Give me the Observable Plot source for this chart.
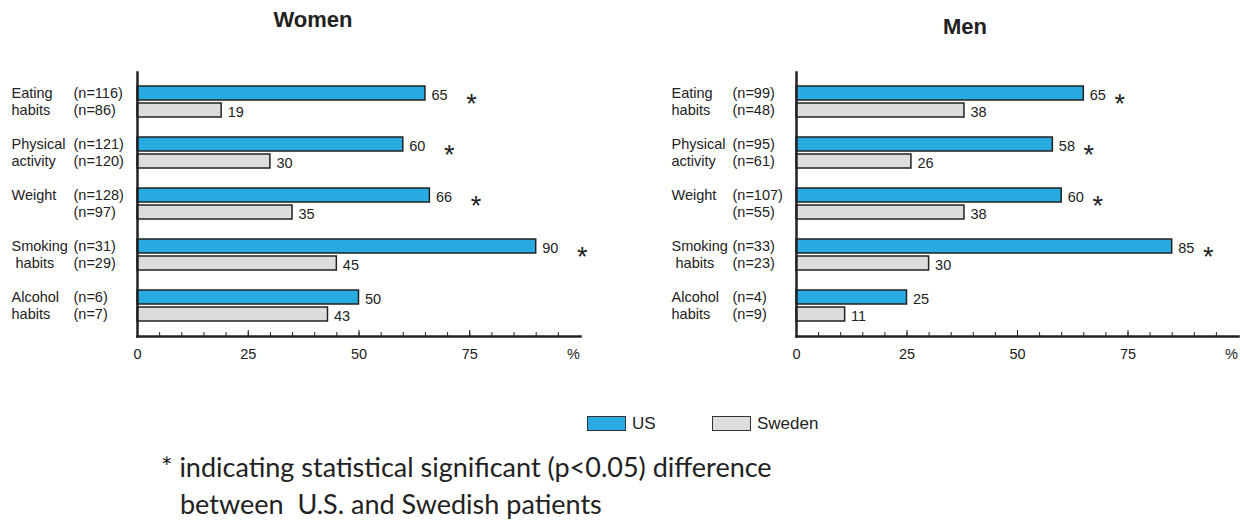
<!DOCTYPE html>
<html>
<head>
<meta charset="utf-8">
<script src="https://cdn.jsdelivr.net/npm/d3@7"></script>
<script src="https://cdn.jsdelivr.net/npm/@observablehq/plot@0.6"></script>
<style>
  body { margin: 0; background: #fff; }
  #root { position: relative; width: 1240px; height: 526px; font-family: "Liberation Sans", Arial, sans-serif; color: #222; overflow: hidden; }
  .panel { position: absolute; top: 0; }
  .title { position: absolute; width: 200px; text-align: center; font-weight: bold; font-size: 22px; line-height: 22px; }
  .swatch { position: absolute; width: 37px; height: 13px; border: 1px solid #333; box-sizing: content-box; }
  .legtext { position: absolute; font-size: 17px; line-height: 17px; }
  .note { position: absolute; font-family: Lato, "Open Sans", sans-serif; font-size: 27px; line-height: 28px; white-space: pre; color: #222; }
</style>
</head>
<body>
<div id="root"></div>
<script>
// ---------- data ----------
const categories = ["Eating habits", "Physical activity", "Weight", "Smoking habits", "Alcohol habits"];
const labelLine1 = ["Eating", "Physical", "Weight", "Smoking", "Alcohol"];
const labelLine2 = ["habits", "activity", "", " habits", "habits"];
const countries = ["US", "Sweden"];
const countryColors = ["#29abe2", "#dcdddf"];

const womenUS = [65, 60, 66, 90, 50];
const womenSweden = [19, 30, 35, 45, 43];
const womenNUS = [116, 121, 128, 31, 6];
const womenNSweden = [86, 120, 97, 29, 7];
const womenSignificant = [true, true, true, true, false];

const menUS = [65, 58, 60, 85, 25];
const menSweden = [38, 26, 38, 30, 11];
const menNUS = [99, 95, 107, 33, 4];
const menNSweden = [48, 61, 55, 23, 9];
const menSignificant = [true, true, true, true, false];

const xTicks = [0, 25, 50, 75];
const unitLabel = "%";
const titles = ["Women", "Men"];
const noteLine1 = "* indicating statistical significant (p<0.05) difference";
const noteLine2 = "between  U.S. and Swedish patients";

// ---------- helpers ----------
const yDomain = categories.flatMap((c, i) =>
  i < categories.length - 1 ? [c + "|US", c + "|Sweden", "gap" + i] : [c + "|US", c + "|Sweden"]);

function rows(us, sw, nUS, nSw, sig) {
  return categories.flatMap((c, i) => [
    {key: c + "|US", cat: c, country: "US", value: us[i], n: nUS[i], label: labelLine1[i], sig: sig[i]},
    {key: c + "|Sweden", cat: c, country: "Sweden", value: sw[i], n: nSw[i], label: labelLine2[i], sig: false}
  ]);
}

const FONT = "Liberation Sans, Arial, sans-serif";
const PLOT_H = 380, MT = 72, MB = 44;
const innerH = PLOT_H - MT - MB;

function panel(data, o) {
  const stars = data.filter(d => d.sig);
  return Plot.plot({
    width: o.width, height: PLOT_H,
    marginLeft: o.ml, marginRight: o.mr, marginTop: MT, marginBottom: MB,
    style: {fontFamily: FONT, fontSize: "14.5px", color: "#222", background: "transparent", overflow: "visible", whiteSpace: "pre"},
    x: {domain: [0, 100], label: null},
    y: {domain: yDomain, paddingInner: 0.156, paddingOuter: 0.5, axis: null},
    color: {domain: countries, range: countryColors},
    marks: [
      Plot.barX(data, {x: "value", y: "key", fill: "country", stroke: "#222", strokeWidth: 1.5}),
      Plot.text(data, {x: "value", y: "key", text: d => String(d.value), dx: 6, dy: 1.5, textAnchor: "start", fill: "#222"}),
      Plot.text(stars, {x: "value", y: "key", text: () => "*", dx: o.starDx, dy: 11, fontSize: 27, fill: "#222"}),
      Plot.text(data, {y: "key", text: "label", frameAnchor: "left", textAnchor: "start", dx: o.labelDx, fill: "#222"}),
      Plot.text(data, {y: "key", text: d => `(n=${d.n})`, frameAnchor: "left", textAnchor: "start", dx: o.nDx, fill: "#222"}),
      Plot.ruleX(d3.range(5, 100, 5), {insetTop: innerH - 4, stroke: "#222", strokeWidth: 1}),
      Plot.ruleX(xTicks.slice(1), {insetTop: innerH - 6, stroke: "#222", strokeWidth: 1}),
      Plot.axisX({ticks: xTicks, tickSize: 0, tickPadding: 12, label: null, fill: "#222"}),
      Plot.axisX({ticks: [100], tickFormat: () => unitLabel, tickSize: 0, tickPadding: 12, label: null, dx: -7, fill: "#222"}),
      Plot.frame({anchor: "left", stroke: "#222", strokeWidth: 2.5}),
      Plot.frame({anchor: "bottom", stroke: "#222", strokeWidth: 2.5})
    ]
  });
}

const root = document.getElementById("root");

function place(el, left, top) {
  const d = document.createElement("div");
  d.className = "panel";
  d.style.left = left + "px";
  d.style.top = top + "px";
  d.appendChild(el);
  root.appendChild(d);
}

place(panel(rows(womenUS, womenSweden, womenNUS, womenNSweden, womenSignificant),
  {width: 620, ml: 137, mr: 40, starDx: 46, labelDx: -126, nDx: -64}), 0, 0);
place(panel(rows(menUS, menSweden, menNUS, menNSweden, menSignificant),
  {width: 620, ml: 176, mr: 2, starDx: 36, labelDx: -125, nDx: -64}), 620, 0);

// titles
[[titles[0], 313, 9], [titles[1], 965, 16]].forEach(([t, cx, top]) => {
  const d = document.createElement("div");
  d.className = "title";
  d.textContent = t;
  d.style.left = (cx - 100) + "px";
  d.style.top = top + "px";
  root.appendChild(d);
});

// legend
[[0, 587, 632], [1, 712, 757]].forEach(([i, sx, tx]) => {
  const s = document.createElement("div");
  s.className = "swatch";
  s.style.left = sx + "px";
  s.style.top = "416px";
  s.style.background = countryColors[i];
  root.appendChild(s);
  const t = document.createElement("div");
  t.className = "legtext";
  t.textContent = countries[i];
  t.style.left = tx + "px";
  t.style.top = "415px";
  root.appendChild(t);
});

// footnote
[[noteLine1, 161, 453], [noteLine2, 180, 490]].forEach(([txt, left, top]) => {
  const d = document.createElement("div");
  d.className = "note";
  d.textContent = txt;
  d.style.left = left + "px";
  d.style.top = top + "px";
  root.appendChild(d);
});
</script>
</body>
</html>
